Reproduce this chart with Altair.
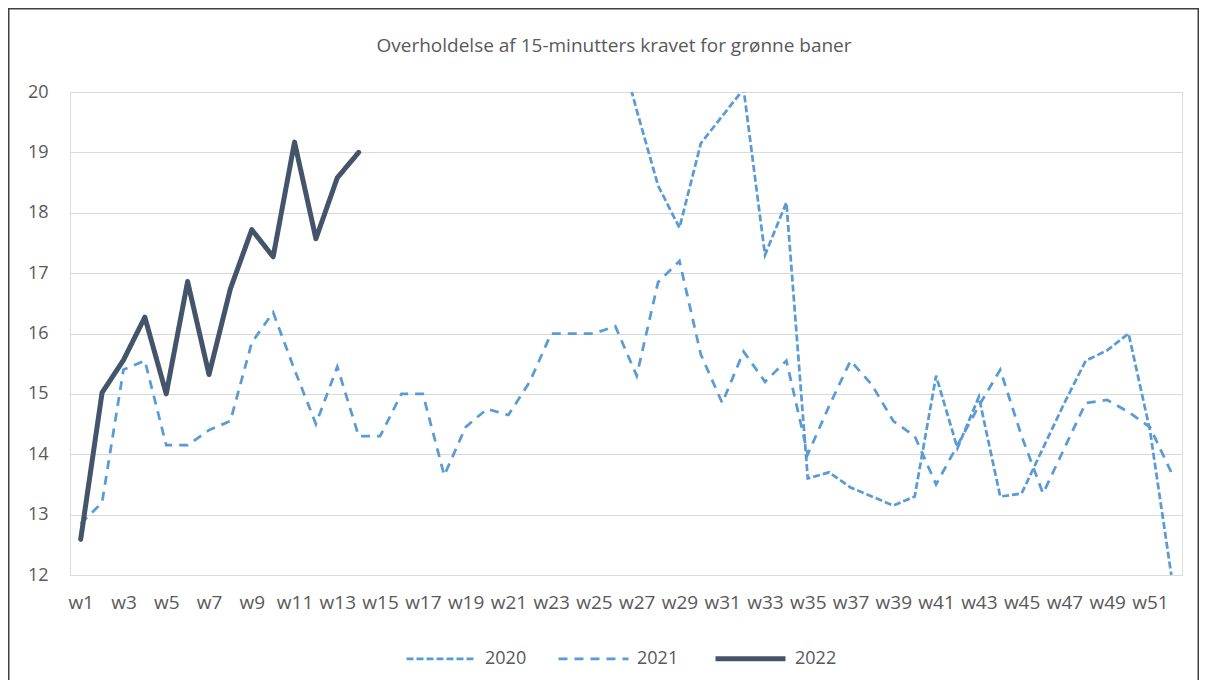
import altair as alt
import pandas as pd

# ---- data -------------------------------------------------------------
weeks = ["w1", "w2", "w3", "w4", "w5", "w6", "w7", "w8", "w9", "w10",
         "w11", "w12", "w13", "w14", "w15", "w16", "w17", "w18", "w19", "w20",
         "w21", "w22", "w23", "w24", "w25", "w26", "w27", "w28", "w29", "w30",
         "w31", "w32", "w33", "w34", "w35", "w36", "w37", "w38", "w39", "w40",
         "w41", "w42", "w43", "w44", "w45", "w46", "w47", "w48", "w49", "w50",
         "w51", "w52"]
tick_weeks = ["w1", "w3", "w5", "w7", "w9", "w11", "w13", "w15", "w17", "w19",
              "w21", "w23", "w25", "w27", "w29", "w31", "w33", "w35", "w37", "w39",
              "w41", "w43", "w45", "w47", "w49", "w51"]
years = ["2020", "2021", "2022"]

# 2020: only visible from w26 (earlier values lie above the axis maximum)
weeks_2020 = weeks[25:]
values_2020 = [21.0, 19.7, 18.45, 17.75, 19.15, 19.6, 20.05, 17.3, 18.17, 13.6,
               13.7, 13.45, 13.3, 13.15, 13.3, 15.3, 14.1, 14.95, 13.3, 13.35,
               14.1, 14.85, 15.55, 15.72, 16.0, 14.4, 12.0]

weeks_2021 = weeks
values_2021 = [12.85, 13.2, 15.4, 15.55, 14.15, 14.15, 14.4, 14.55, 15.85, 16.35,
               15.4, 14.5, 15.45, 14.3, 14.3, 15.0, 15.0, 13.65, 14.45, 14.75,
               14.65, 15.2, 16.0, 16.0, 16.0, 16.12, 15.3, 16.85, 17.2, 15.65,
               14.85, 15.7, 15.2, 15.55, 14.0, 14.8, 15.55, 15.15, 14.55, 14.3,
               13.5, 14.15, 14.8, 15.4, 14.3, 13.35, 14.1, 14.85, 14.9, 14.7,
               14.45, 13.7]

weeks_2022 = weeks[:14]
values_2022 = [12.59, 15.02, 15.56, 16.27, 15.0, 16.86, 15.32, 16.74, 17.72, 17.27,
               19.17, 17.57, 18.58, 19.0]

title_text = "Overholdelse af 15-minutters kravet for grønne baner"

rows = []
for yr, wk, vals in [("2020", weeks_2020, values_2020),
                     ("2021", weeks_2021, values_2021),
                     ("2022", weeks_2022, values_2022)]:
    for w, v in zip(wk, vals):
        rows.append({"year": yr, "week": w, "value": v})
df = pd.DataFrame(rows)

# ---- styling ----------------------------------------------------------
FONT = "Open Sans"
TXT = "#595959"
W, H = 1112, 483
THIN, THICK = 2.75, 5

legend = alt.Legend(
    title=None, orient="none", direction="horizontal",
    legendX=335, legendY=529, symbolType="stroke",
    symbolSize=4900, labelFontSize=18, labelFont=FONT,
    labelColor=TXT, columnPadding=26, labelOffset=7)

color_scale = alt.Scale(domain=years, range=["#5B9BD5", "#5B9BD5", "#44546A"])
dash_scale = alt.Scale(domain=years, range=[[7, 3], [9, 7], [1, 0]])
width_scale = alt.Scale(type="ordinal", domain=years, range=[THIN, THIN, THICK])

base = alt.Chart(df).encode(
    x=alt.X("week:O", sort=weeks,
            scale=alt.Scale(type="point", padding=0.5),
            axis=alt.Axis(values=tick_weeks, title=None, labelAngle=0,
                          labelFont=FONT, labelFontSize=19, labelColor=TXT,
                          ticks=False, tickSize=0, domain=False, grid=False,
                          labelPadding=18)),
    y=alt.Y("value:Q",
            scale=alt.Scale(domain=[12, 20], nice=False, zero=False),
            axis=alt.Axis(values=[12, 13, 14, 15, 16, 17, 18, 19, 20],
                          title=None, labelFont=FONT, labelFontSize=18,
                          labelColor=TXT, ticks=False, tickSize=0,
                          domain=False, grid=True, gridColor="#D9D9D9",
                          gridWidth=1, labelPadding=22)),
    color=alt.Color("year:N", scale=color_scale, legend=legend),
    strokeDash=alt.StrokeDash("year:N", scale=dash_scale, legend=legend),
    strokeWidth=alt.StrokeWidth("year:N", scale=width_scale, legend=legend),
)

dashed = base.transform_filter("datum.year != '2022'").mark_line(
    clip=True, strokeCap="butt", strokeJoin="miter")
solid = base.transform_filter("datum.year == '2022'").mark_line(
    clip=True, strokeCap="round", strokeJoin="round")

one = alt.Data(values=[{}])
title = alt.Chart(one).mark_text(
    text=title_text, font=FONT, fontSize=19, color=TXT,
    align="center", baseline="alphabetic").encode(
    x=alt.value(544), y=alt.value(-40))

frame = alt.Chart(one).mark_rect(
    fill=None, stroke="#404040", strokeWidth=1.5, clip=False).encode(
    x=alt.value(-61.25), x2=alt.value(W + 16.25),
    y=alt.value(-83.25), y2=alt.value(H + 200))

chart = alt.layer(frame, dashed, solid, title).properties(
    width=W, height=H,
    padding={"left": 62, "top": 84, "right": 17, "bottom": 105},
    autosize=alt.AutoSizeParams(type="none"),
).configure_view(stroke=None).configure(background="white")

chart.save("out.html", embed_options={"renderer": "svg", "actions": False})
